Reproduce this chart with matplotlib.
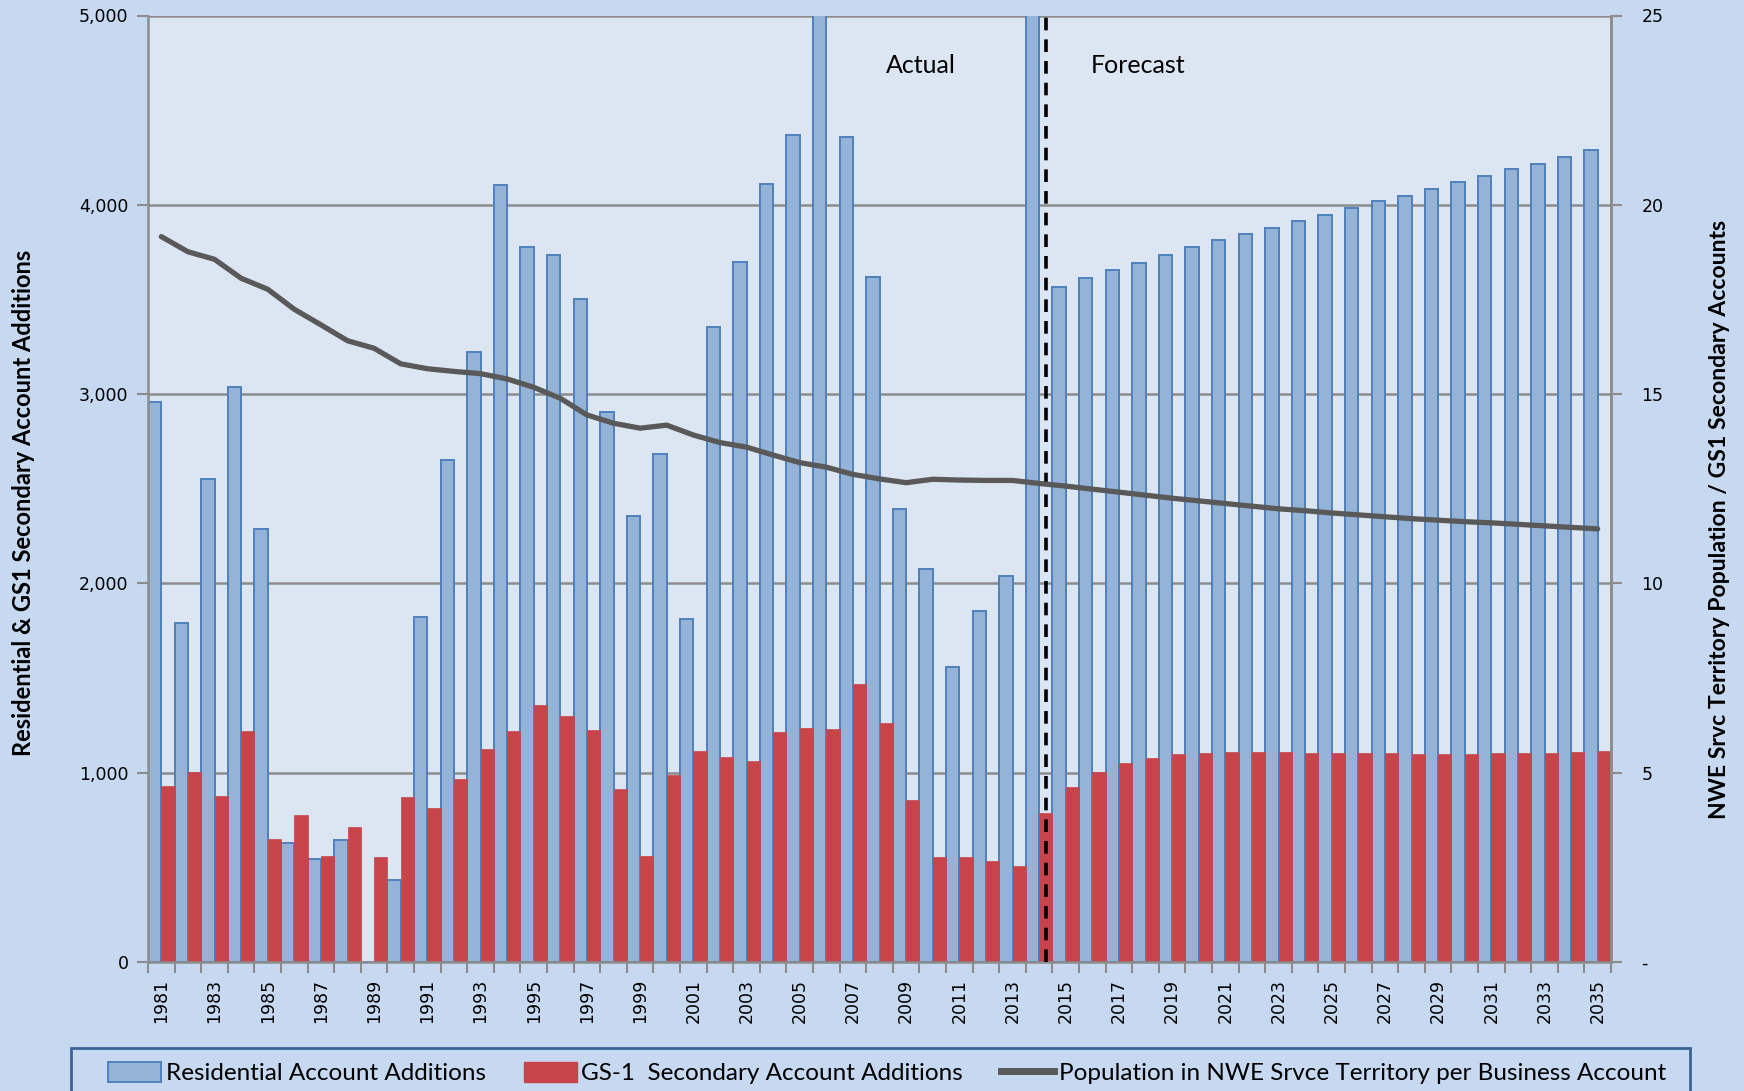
import matplotlib
matplotlib.use("Agg")
import matplotlib.pyplot as plt
from matplotlib.patches import Patch, Rectangle
from matplotlib.lines import Line2D
from matplotlib.ticker import FuncFormatter, FixedLocator
import numpy as np

YEARS = list(range(1981, 2036))

RESIDENTIAL = [
    2960, 1790, 2550, 3040, 2290, 627, 545, 647, 0, 434,
    1820, 2650, 3220, 4105, 3775, 3735, 3505, 2905, 2355, 2685,
    1810, 3355, 3700, 4110, 4370, 5400, 4360, 3620, 2393, 2078,
    1558, 1855, 2039, 5300, 3566, 3613, 3654, 3695, 3737, 3777,
    3813, 3848, 3877, 3913, 3948, 3983, 4018, 4048, 4083, 4118,
    4154, 4189, 4218, 4253, 4289,
]

GS1_SECONDARY = [
    928, 1006, 877, 1218, 650, 776, 559, 714, 557, 871,
    811, 969, 1126, 1218, 1355, 1300, 1226, 912, 560, 986,
    1117, 1082, 1064, 1216, 1236, 1231, 1471, 1260, 855, 556,
    556, 533, 507, 786, 922, 1002, 1053, 1080, 1098, 1102,
    1110, 1110, 1108, 1106, 1105, 1104, 1102, 1101, 1101, 1101,
    1102, 1104, 1106, 1108, 1115,
]

POP_PER_ACCOUNT = [
    19.16, 18.76, 18.56, 18.06, 17.77, 17.24, 16.83, 16.41, 16.21, 15.80,
    15.67, 15.60, 15.54, 15.40, 15.18, 14.89, 14.45, 14.23, 14.10, 14.18,
    13.92, 13.72, 13.60, 13.39, 13.19, 13.07, 12.88, 12.76, 12.66, 12.75,
    12.73, 12.72, 12.72, 12.64, 12.57, 12.49, 12.41, 12.33, 12.25, 12.18,
    12.11, 12.04, 11.97, 11.92, 11.86, 11.81, 11.76, 11.71, 11.67, 11.63,
    11.60, 11.56, 11.52, 11.48, 11.44,
]

FORECAST_START = 2014  # actual/forecast divider sits inside this year's slot

BG = "#C6D9F1"
PLOT_BG = "#DCE6F2"
BLUE_FILL = "#95B3D7"
BLUE_EDGE = "#4F81BD"
RED_FILL = "#C8444B"
LINE_GREY = "#595959"
GRID = "#8C8C8C"
TEXT_FONT = ["Lato", "DejaVu Sans"]

plt.rcParams["font.family"] = ["DejaVu Sans"]

fig = plt.figure(figsize=(17.44, 10.91), dpi=100, facecolor=BG)
ax = fig.add_axes([148 / 1744, 129 / 1091, 1463 / 1744, 946.5 / 1091])
ax.set_facecolor(PLOT_BG)

x = np.arange(len(YEARS))
ax.bar(x - 0.25, RESIDENTIAL, width=0.5, color=BLUE_FILL, edgecolor=BLUE_EDGE,
       linewidth=1.4, zorder=2)
ax.bar(x + 0.25, GS1_SECONDARY, width=0.5, color=RED_FILL, edgecolor=RED_FILL,
       linewidth=0.5, zorder=2)

ax.set_xlim(-0.5, len(YEARS) - 0.5)
ax.set_ylim(0, 5000)
ax.set_yticks(np.arange(0, 5001, 1000))
ax.yaxis.set_major_formatter(FuncFormatter(lambda v, p: f"{int(v):,}"))
ax.grid(axis="y", color=GRID, linewidth=1.8, zorder=0)
ax.set_axisbelow(True)

# year labels every other year, tick marks at every category boundary
ax.xaxis.set_major_locator(FixedLocator(x[::2]))
ax.set_xticklabels([str(y) for y in YEARS[::2]], rotation=90)
ax.xaxis.set_minor_locator(FixedLocator(np.arange(-0.5, len(YEARS), 1.0)))
ax.tick_params(axis="x", which="major", length=0, labelsize=12.5, pad=12)
ax.tick_params(axis="x", which="minor", length=8, width=1.5, color=GRID)
ax.tick_params(axis="y", length=8, width=1.5, color=GRID, labelsize=12.5, pad=6)

for side in ["left", "bottom", "right"]:
    ax.spines[side].set_color(GRID)
    ax.spines[side].set_linewidth(1.8)
ax.spines["top"].set_visible(False)

div = YEARS.index(FORECAST_START) + 0.25
ax.axvline(div, color="black", linestyle=(0, (3.5, 2.5)), linewidth=2.6, zorder=4)

ax.text(0.528, 0.947, "Actual", transform=ax.transAxes, ha="center", va="center",
        fontsize=18, family=TEXT_FONT)
ax.text(0.677, 0.947, "Forecast", transform=ax.transAxes, ha="center", va="center",
        fontsize=18, family=TEXT_FONT)

ax.set_ylabel("Residential & GS1 Secondary Account Additions", fontsize=17,
              fontweight="bold", family=TEXT_FONT)
ax.yaxis.set_label_coords(-0.077, 0.485)

ax2 = ax.twinx()
ax2.plot(x, POP_PER_ACCOUNT, color=LINE_GREY, linewidth=3.8,
         solid_capstyle="round", solid_joinstyle="round", zorder=5)
ax2.set_ylim(0, 25)
ax2.set_yticks(np.arange(0, 26, 5))
ax2.yaxis.set_major_formatter(FuncFormatter(lambda v, p: "-" if v == 0 else f"{int(v)}"))
ax2.tick_params(axis="y", length=8, width=1.5, color=GRID, labelsize=12.5, pad=14)
for side in ["left", "bottom", "top"]:
    ax2.spines[side].set_visible(False)
ax2.spines["right"].set_color(GRID)
ax2.spines["right"].set_linewidth(1.8)
ax2.set_ylabel("NWE Srvc Territory Population / GS1 Secondary Accounts", fontsize=16.6,
               fontweight="bold", family=TEXT_FONT)
ax2.yaxis.set_label_coords(1.067, 0.468)

# legend frame runs off the bottom of the figure, so draw it separately
fig.patches.append(Rectangle((71 / 1744, -0.05), (1690 - 71) / 1744, 0.05 + 1 - 1048 / 1091,
                             transform=fig.transFigure, facecolor="none",
                             edgecolor="#3B6496", linewidth=2))

handles = [
    Patch(facecolor=BLUE_FILL, edgecolor=BLUE_EDGE, linewidth=1.4),
    Patch(facecolor=RED_FILL, edgecolor=RED_FILL),
    Line2D([0], [0], color=LINE_GREY, linewidth=5),
]
labels = [
    "Residential Account Additions",
    "GS-1  Secondary Account Additions",
    "Population in NWE Srvce Territory per Business Account",
]
leg = fig.legend(handles, labels, loc="center left",
                 bbox_to_anchor=(108 / 1744, 1 - 1073 / 1091), ncol=3,
                 frameon=False, handlelength=2.2, handleheight=0.9,
                 handletextpad=0.18, columnspacing=1.55, borderpad=0,
                 borderaxespad=0, prop={"family": TEXT_FONT, "size": 17.5})

fig.savefig("out.png", dpi=100, facecolor=BG)
